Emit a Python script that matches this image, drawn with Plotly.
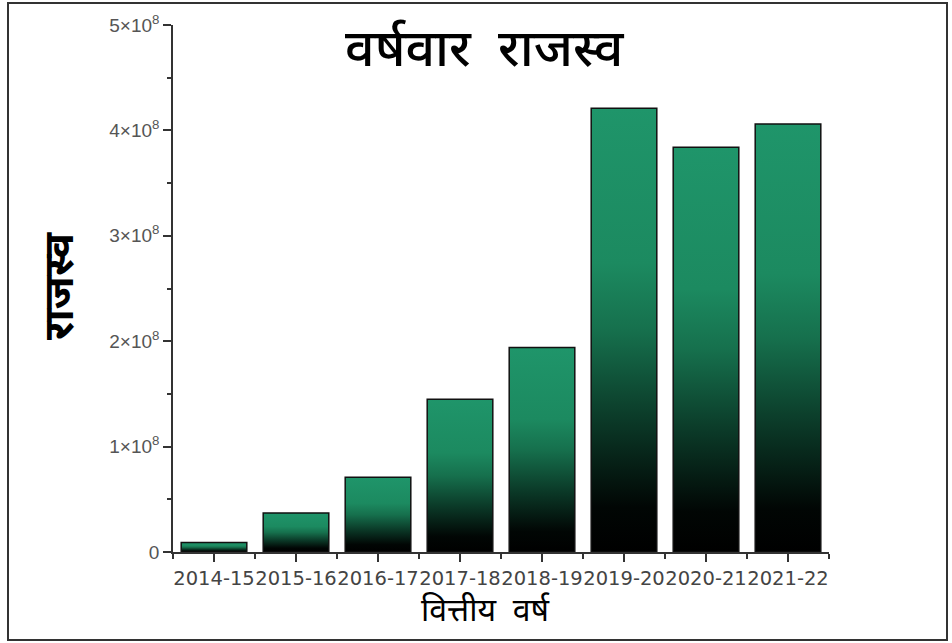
import plotly.graph_objects as go

# Year-wise revenue
years = ["2014-15", "2015-16", "2016-17", "2017-18", "2018-19", "2019-20", "2020-21", "2021-22"]
revenue = [9.0e6, 3.7e7, 7.1e7, 1.45e8, 1.94e8, 4.21e8, 3.84e8, 4.06e8]

y_tick_vals = [0, 1e8, 2e8, 3e8, 4e8, 5e8]
y_tick_text = ["0", "1×10<sup>8</sup>", "2×10<sup>8</sup>", "3×10<sup>8</sup>",
               "4×10<sup>8</sup>", "5×10<sup>8</sup>"]

title_text = "वर्षवार  राजस्व"
x_title = "वित्तीय  वर्ष"
y_title = "राजस्व"

BAR_WIDTH = 0.8
DEVA = "Noto Sans Devanagari, Lohit Devanagari, Mangal, Noto Sans, sans-serif"

# black at the base fading up into green at the top of every bar
gradient = [[0.0, "#000000"], [0.1, "#010604"], [0.3, "#0b3a28"],
            [0.5, "#16704d"], [0.65, "#1c8a60"], [1.0, "#1f956a"]]

fig = go.Figure()
for i, (yr, v) in enumerate(zip(years, revenue)):
    x0, x1 = i - BAR_WIDTH / 2, i + BAR_WIDTH / 2
    fig.add_trace(go.Scatter(
        x=[x0, x0, x1, x1, x0], y=[0, v, v, 0, 0],
        mode="lines", fill="toself",
        fillgradient=dict(type="vertical", colorscale=gradient),
        line=dict(color="#111111", width=1.5),
        name=yr, hoverinfo="skip", showlegend=False,
    ))

L, R, T, B = 173, 123, 25, 91
W, H = 952, 643
pw, ph = W - L - R, H - T - B

def px_x(p):
    return (p - L) / pw

def px_y(p):
    return (H - B - p) / ph

fig.update_layout(
    width=W, height=H,
    margin=dict(l=L, r=R, t=T, b=B),
    paper_bgcolor="white", plot_bgcolor="white",
    xaxis=dict(
        range=[-0.5, 7.5], tickmode="array", tickvals=list(range(len(years))), ticktext=years,
        tickangle=0,
        showgrid=False, zeroline=False, showline=True, linecolor="#333333", linewidth=1.5,
        ticks="outside", ticklen=8, tickwidth=1.5, tickcolor="#333333",
        tickfont=dict(family="DejaVu Sans, Arial, sans-serif", size=19.5, color="#444444"),
        minor=dict(tickvals=[i - 0.5 for i in range(len(years) + 1)], ticks="outside",
                   ticklen=5, tickwidth=1.5, tickcolor="#333333", showgrid=False),
        fixedrange=True,
    ),
    yaxis=dict(
        range=[0, 5e8], tickmode="array", tickvals=y_tick_vals, ticktext=y_tick_text,
        showgrid=False, zeroline=False, showline=True, linecolor="#333333", linewidth=1.5,
        ticks="outside", ticklen=8, tickwidth=1.5, tickcolor="#333333",
        tickfont=dict(family="Liberation Sans, Arial, sans-serif", size=19, color="#555555"),
        minor=dict(dtick=5e7, tick0=0, ticks="outside", ticklen=4, tickwidth=1.5,
                   tickcolor="#333333", showgrid=False),
        fixedrange=True,
    ),
    annotations=[
        dict(text=title_text, xref="paper", yref="paper", x=px_x(485), y=px_y(53),
             xanchor="center", yanchor="middle", showarrow=False,
             font=dict(family=DEVA, size=52, color="#000000", weight=500)),
        dict(text=y_title, xref="paper", yref="paper", x=px_x(62), y=px_y(286),
             xanchor="center", yanchor="middle", showarrow=False, textangle=-90,
             font=dict(family=DEVA, size=42, color="#000000", weight="bold")),
        dict(text=x_title, xref="paper", yref="paper", x=px_x(485), y=px_y(613),
             xanchor="center", yanchor="middle", showarrow=False,
             font=dict(family=DEVA, size=32, color="#000000")),
    ],
    shapes=[
        dict(type="rect", xref="paper", yref="paper",
             x0=px_x(8), x1=px_x(947), y0=px_y(640), y1=px_y(3),
             line=dict(color="#333333", width=2), fillcolor="rgba(0,0,0,0)", layer="below"),
    ],
)

fig.write_html("out.html")
